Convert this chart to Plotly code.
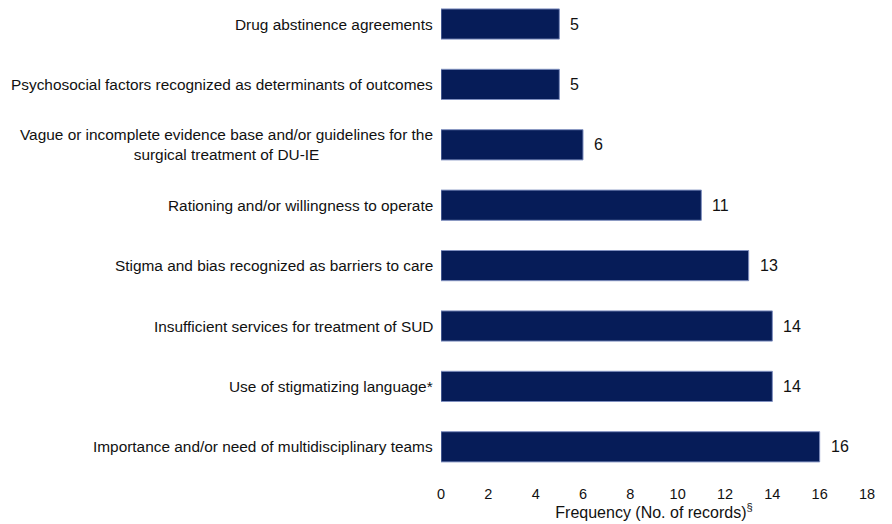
import plotly.graph_objects as go

categories = [
    "Drug abstinence agreements",
    "Psychosocial factors recognized as determinants of outcomes",
    "Vague or incomplete evidence base and/or guidelines for the<br>surgical treatment of DU-IE",
    "Rationing and/or willingness to operate",
    "Stigma and bias recognized as barriers to care",
    "Insufficient services for treatment of SUD",
    "Use of stigmatizing language*",
    "Importance and/or need of multidisciplinary teams",
]
values = [5, 5, 6, 11, 13, 14, 14, 16]
x_ticks = [0, 2, 4, 6, 8, 10, 12, 14, 16, 18]

# plot bottom-to-top
cats_rev = categories[::-1]
vals_rev = values[::-1]
ypos = list(range(len(cats_rev)))

fig = go.Figure(go.Bar(
    x=vals_rev, y=ypos, orientation="h", width=0.5,
    marker=dict(color="#061c58", line=dict(color="#7f8fbf", width=1)),
    hoverinfo="skip",
))

annotations = []
for yi, (c, v) in enumerate(zip(cats_rev, vals_rev)):
    annotations.append(dict(x=v, y=yi, xref="x", yref="y", text=str(v),
                            showarrow=False, xanchor="left", xshift=9,
                            font=dict(size=16, color="#111111")))
    annotations.append(dict(x=0, y=yi, xref="paper", yref="y", text=c,
                            showarrow=False, xanchor="right", xshift=-6,
                            align="center",
                            font=dict(size=15.4, color="#111111")))

fig.update_layout(
    width=892, height=524,
    margin=dict(l=433, r=33, t=0, b=55),
    plot_bgcolor="white", paper_bgcolor="white",
    font=dict(family="Liberation Sans, Arial, sans-serif", size=14, color="#111111"),
    showlegend=False,
    annotations=annotations,
    xaxis=dict(range=[0, 18], tickvals=x_ticks, showgrid=False, zeroline=False,
               showline=False, ticks="", tickfont=dict(size=14.5),
               ticklabelstandoff=6,
               title=dict(text="Frequency (No. of records)<sup>§</sup>",
                          font=dict(size=16), standoff=2)),
    yaxis=dict(range=[-0.5, 7.265], showticklabels=False, showgrid=False,
               zeroline=False, showline=False, ticks=""),
)

fig.write_html("out.html")
